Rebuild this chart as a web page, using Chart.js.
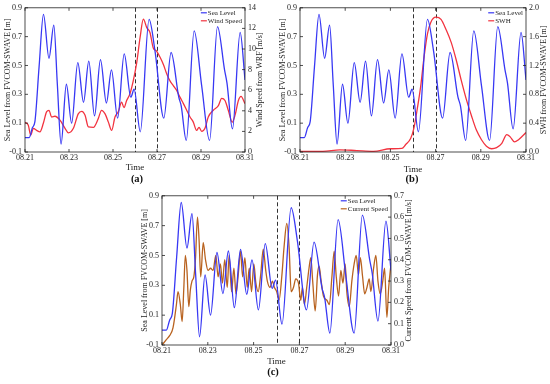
<!DOCTYPE html>
<html>
<head>
<meta charset="utf-8">
<script src="https://cdn.jsdelivr.net/npm/chart.js@4.4.1/dist/chart.umd.min.js"></script>
<style>
  body { margin: 0; background: #fff; width: 550px; height: 384px; position: relative; overflow: hidden; }
  canvas { position: absolute; }
  .tag { position: absolute; font: bold 10.5px "Liberation Serif"; color: #111; transform: translateX(-50%); }
</style>
</head>
<body>
<canvas id="chartA" width="275" height="176" style="left:0;top:0"></canvas>
<canvas id="chartB" width="275" height="176" style="left:275px;top:0"></canvas>
<canvas id="chartC" width="285" height="182" style="left:135px;top:188px"></canvas>
<div class="tag" style="left:137px;top:173px">(a)</div>
<div class="tag" style="left:412px;top:173px">(b)</div>
<div class="tag" style="left:273px;top:366px">(c)</div>
<script>
// time axis (day of August) and the two dashed event lines
const dayTicks = [21, 23, 25, 27, 29, 31];
const eventDays = [26, 27];

// tick values of the value axes
const seaTicks = [-0.1, 0.1, 0.3, 0.5, 0.7, 0.9];
const windTicks = [0, 2, 4, 6, 8, 10, 12, 14];
const swhTicks = [0, 0.4, 0.8, 1.2, 1.6, 2.0];
const currentTicks = [0, 0.1, 0.2, 0.3, 0.4, 0.5, 0.6, 0.7];

// sea level from FVCOM-SWAVE [m]
const seaDays = [
  21.0, 21.19, 21.34, 21.45, 21.64, 21.84, 22.09, 22.31, 22.47, 22.64,
  22.88, 23.12, 23.40, 23.66, 23.90, 24.16, 24.43, 24.70, 24.93, 25.21,
  25.51, 25.81, 25.96, 26.24, 26.64, 26.91, 27.31, 27.64, 27.99, 28.10,
  28.33, 28.69, 29.03, 29.39, 29.75, 30.07, 30.18, 30.43, 30.78, 31.0
];
const seaLevel = [
  0.0, 0.0, 0.07, 0.11, 0.49, 0.855, 0.55, 0.78, 0.37, -0.045,
  0.37, 0.10, 0.52, 0.245, 0.53, 0.15, 0.54, 0.24, 0.47, 0.135,
  0.58, 0.28, 0.335, 0.04, 0.82, 0.60, 0.135, 0.59, 0.28, 0.22,
  -0.02, 0.74, 0.36, -0.02, 0.77, 0.47, 0.38, 0.06, 0.73, 0.40
];

// wind speed from WRF [m/s]
const windDays = [
  21.0, 21.15, 21.26, 21.38, 21.53, 21.68, 21.83, 21.98, 22.09, 22.21,
  22.36, 22.59, 22.82, 22.97, 23.20, 23.42, 23.58, 23.73, 23.88, 24.11,
  24.33, 24.48, 24.64, 24.79, 24.94, 25.09, 25.24, 25.39, 25.50, 25.62,
  25.77, 25.92, 26.08, 26.23, 26.38, 26.53, 26.68, 26.83, 26.98, 27.14,
  27.29, 27.44, 27.59, 27.74, 27.89, 28.05, 28.20, 28.35, 28.50, 28.65,
  28.80, 28.91, 29.03, 29.18, 29.33, 29.56, 29.79, 29.94, 30.09, 30.24,
  30.42, 30.55, 30.70, 30.82, 31.0
];
const windSpeed = [
  2.9, 2.6, 1.64, 2.3, 2.1, 1.96, 2.76, 3.9, 4.05, 3.4,
  3.47, 3.1, 2.3, 1.86, 2.3, 3.7, 3.95, 3.56, 2.44, 2.4,
  3.24, 4.05, 3.7, 2.9, 2.1, 3.4, 3.9, 4.85, 4.3, 5.0,
  5.65, 6.9, 8.7, 11.1, 12.9, 12.1, 11.6, 10.1, 9.8, 9.2,
  8.5, 7.6, 6.9, 6.45, 6.0, 5.3, 4.7, 4.05, 3.4, 2.9,
  2.1, 2.4, 2.0, 2.3, 3.4, 4.05, 4.5, 5.2, 5.0, 4.05,
  2.9, 3.6, 5.0, 5.4, 4.7
];

// significant wave height from FVCOM-SWAVE [m]
const swhDays = [
  21.0, 22.01, 22.76, 23.51, 24.25, 25.0, 25.51, 25.67, 25.9, 26.04,
  26.19, 26.34, 26.49, 26.64, 26.79, 27.01, 27.24, 27.46, 27.69, 27.91,
  28.13, 28.36, 28.58, 28.81, 29.03, 29.25, 29.48, 29.7, 29.93, 30.15,
  30.30, 30.49, 30.67, 31.0
];
const swh = [
  0.01, 0.01, 0.03, 0.02, 0.01, 0.045, 0.05, 0.1, 0.19, 0.33,
  0.6, 0.91, 1.32, 1.64, 1.8, 1.87, 1.84, 1.7, 1.52, 1.28,
  1.0, 0.73, 0.51, 0.30, 0.17, 0.08, 0.045, 0.06, 0.12, 0.24,
  0.21, 0.14, 0.17, 0.27
];

// current speed from FVCOM-SWAVE [m/s]
const currentDays = [
  21.0, 21.19, 21.34, 21.48, 21.63, 21.70, 21.80, 21.88, 21.95, 22.02,
  22.09, 22.17, 22.24, 22.31, 22.39, 22.46, 22.55, 22.62, 22.69, 22.80,
  22.90, 23.01, 23.12, 23.23, 23.35, 23.45, 23.55, 23.64, 23.74, 23.85,
  23.93, 24.04, 24.14, 24.23, 24.33, 24.43, 24.52, 24.62, 24.72, 24.81,
  24.91, 25.01, 25.10, 25.20, 25.31, 25.42, 25.53, 25.60, 25.72, 25.82,
  25.91, 26.01, 26.11, 26.23, 26.33, 26.45, 26.55, 26.64, 26.74, 26.84,
  26.96, 27.06, 27.13, 27.22, 27.32, 27.42, 27.50, 27.58, 27.69, 27.79,
  27.86, 27.95, 28.05, 28.20, 28.31, 28.42, 28.52, 28.61, 28.71, 28.81,
  28.90, 29.0, 29.07, 29.18, 29.29, 29.39, 29.48, 29.58, 29.66, 29.76,
  29.85, 29.95, 30.05, 30.12, 30.24, 30.34, 30.43, 30.53, 30.64, 30.72,
  30.82, 30.90, 31.0
];
const currentSpeed = [
  0.0, 0.025, 0.045, 0.08, 0.19, 0.25, 0.19, 0.11, 0.26, 0.42,
  0.35, 0.18, 0.26, 0.30, 0.32, 0.40, 0.60, 0.49, 0.32, 0.48,
  0.40, 0.35, 0.36, 0.35, 0.42, 0.32, 0.38, 0.29, 0.40, 0.27,
  0.42, 0.25, 0.36, 0.24, 0.33, 0.44, 0.32, 0.41, 0.27, 0.36,
  0.25, 0.38, 0.29, 0.25, 0.33, 0.45, 0.35, 0.30, 0.27, 0.30,
  0.27, 0.25, 0.21, 0.32, 0.46, 0.57, 0.46, 0.25, 0.27, 0.31,
  0.29, 0.21, 0.27, 0.19, 0.27, 0.36, 0.41, 0.30, 0.16, 0.33,
  0.37, 0.30, 0.23, 0.21, 0.19, 0.32, 0.44, 0.32, 0.23, 0.35,
  0.29, 0.38, 0.25, 0.18, 0.30, 0.38, 0.42, 0.33, 0.41, 0.32,
  0.24, 0.27, 0.31, 0.25, 0.36, 0.42, 0.30, 0.24, 0.30, 0.36,
  0.13, 0.27, 0.38
];

const FONT = 'Liberation Serif';
const INK = '#222';

const toPoints = (xs, ys) => xs.map((x, i) => ({ x: x, y: ys[i] }));
const fixTicks = list => s => { s.ticks = list.map(v => ({ value: v })); };

// frame, inward ticks, dashed event lines, right title and legend
const framePlugin = {
  id: 'frame',
  beforeDatasetsDraw(chart) {
    const { ctx, chartArea: a, scales } = chart;
    ctx.save();
    ctx.strokeStyle = '#333';
    ctx.lineWidth = 1;
    ctx.setLineDash([4, 2.5]);
    eventDays.forEach(d => {
      const x = Math.round(scales.x.getPixelForValue(d)) + 0.5;
      ctx.beginPath();
      ctx.moveTo(x, a.top);
      ctx.lineTo(x, a.bottom);
      ctx.stroke();
    });
    ctx.restore();
  },
  afterDraw(chart, args, opts) {
    const { ctx, chartArea: a, scales } = chart;
    ctx.save();
    ctx.strokeStyle = INK;
    ctx.lineWidth = 0.8;
    ctx.strokeRect(a.left, a.top, a.width, a.height);
    ctx.beginPath();
    scales.x.ticks.forEach(t => {
      const x = scales.x.getPixelForValue(t.value);
      ctx.moveTo(x, a.bottom); ctx.lineTo(x, a.bottom - 3);
      ctx.moveTo(x, a.top); ctx.lineTo(x, a.top + 3);
    });
    scales.y.ticks.forEach(t => {
      const y = scales.y.getPixelForValue(t.value);
      ctx.moveTo(a.left, y); ctx.lineTo(a.left + 3, y);
    });
    scales.y2.ticks.forEach(t => {
      const y = scales.y2.getPixelForValue(t.value);
      ctx.moveTo(a.right, y); ctx.lineTo(a.right - 3, y);
    });
    ctx.stroke();

    // right axis title, read bottom to top
    ctx.fillStyle = INK;
    ctx.font = '8px "' + FONT + '"';
    ctx.textAlign = 'center';
    ctx.textBaseline = 'middle';
    ctx.translate(chart.width - opts.titleGap, (a.top + a.bottom) / 2);
    ctx.rotate(-Math.PI / 2);
    ctx.fillText(opts.rightTitle, 0, 0);
    ctx.setTransform(1, 0, 0, 1, 0, 0);

    // legend in the top right corner
    ctx.font = '7px "' + FONT + '"';
    ctx.textAlign = 'left';
    const labels = chart.data.datasets.map(d => d.label);
    const w = Math.max(...labels.map(l => ctx.measureText(l).width));
    const tx = a.right - 3 - w;
    chart.data.datasets.forEach((d, i) => {
      const y = a.top + 5 + i * 8;
      ctx.strokeStyle = d.borderColor;
      ctx.lineWidth = 1.2;
      ctx.beginPath();
      ctx.moveTo(tx - 7, y); ctx.lineTo(tx - 1, y);
      ctx.stroke();
      ctx.fillStyle = INK;
      ctx.fillText(d.label, tx, y);
    });
    ctx.restore();
  }
};

const noGrid = { display: false, drawTicks: false };

function makeChart(id, second, layout) {
  const ctx = document.getElementById(id).getContext('2d');
  return new Chart(ctx, {
    type: 'line',
    data: {
      datasets: [{
        label: 'Sea Level',
        data: toPoints(seaDays, seaLevel),
        borderColor: '#3838f4',
        borderWidth: 1.3,
        pointRadius: 0,
        cubicInterpolationMode: 'monotone',
        yAxisID: 'y'
      }, {
        label: second.label,
        data: toPoints(second.days, second.values),
        borderColor: second.color,
        borderWidth: 1.3,
        pointRadius: 0,
        cubicInterpolationMode: 'monotone',
        yAxisID: 'y2'
      }]
    },
    options: {
      responsive: false,
      animation: false,
      layout: { padding: { top: 7, left: 0, right: 0, bottom: 0 } },
      plugins: {
        legend: { display: false },
        tooltip: { enabled: false },
        frame: { rightTitle: second.title, titleGap: layout.titleGap }
      },
      scales: {
        x: {
          type: 'linear',
          min: 21, max: 31,
          afterBuildTicks: fixTicks(dayTicks),
          afterFit: s => { s.height = layout.bottom; },
          grid: noGrid,
          border: { display: false },
          ticks: { color: INK, font: { family: FONT, size: 8 }, padding: 1, maxRotation: 0,
                   callback: v => '08.' + v },
          title: { display: true, text: 'Time', color: INK, font: { family: FONT, size: 9 },
                   padding: { top: 0, bottom: layout.timeGap } }
        },
        y: {
          position: 'left',
          min: -0.1, max: 0.9,
          afterBuildTicks: fixTicks(seaTicks),
          afterFit: s => { s.width = layout.left; },
          grid: noGrid,
          border: { display: false },
          ticks: { color: INK, font: { family: FONT, size: 8 }, padding: 3,
                   callback: v => v.toFixed(1) },
          title: { display: true, text: 'Sea Level from FVCOM-SWAVE [m]', color: INK,
                   font: { family: FONT, size: 8 }, padding: { top: layout.leftGap, bottom: 0 } }
        },
        y2: {
          position: 'right',
          min: second.ticks[0], max: second.ticks[second.ticks.length - 1],
          afterBuildTicks: fixTicks(second.ticks),
          afterFit: s => { s.width = layout.right; },
          grid: noGrid,
          border: { display: false },
          ticks: { color: INK, font: { family: FONT, size: 8 }, padding: 3,
                   autoSkip: false, callback: second.format }
        }
      }
    },
    plugins: [framePlugin]
  });
}

makeChart('chartA', {
  label: 'Wind Speed', title: 'Wind Speed from WRF [m/s]',
  days: windDays, values: windSpeed, color: '#f2333f',
  ticks: windTicks, format: v => String(v)
}, { left: 25, right: 30, bottom: 24, titleGap: 15, leftGap: 3, timeGap: 3 });

makeChart('chartB', {
  label: 'SWH', title: 'SWH from FVCOM-SWAVE [m]',
  days: swhDays, values: swh, color: '#f2333f',
  ticks: swhTicks, format: v => v.toFixed(1)
}, { left: 25, right: 24, bottom: 24, titleGap: 6.5, leftGap: 3, timeGap: 1 });

makeChart('chartC', {
  label: 'Current Speed', title: 'Current Speed from FVCOM-SWAVE [m/s]',
  days: currentDays, values: currentSpeed, color: '#b8621f',
  ticks: currentTicks, format: v => v.toFixed(1)
}, { left: 27, right: 29, bottom: 25, titleGap: 11.5, leftGap: 5, timeGap: 3 });
</script>
</body>
</html>
